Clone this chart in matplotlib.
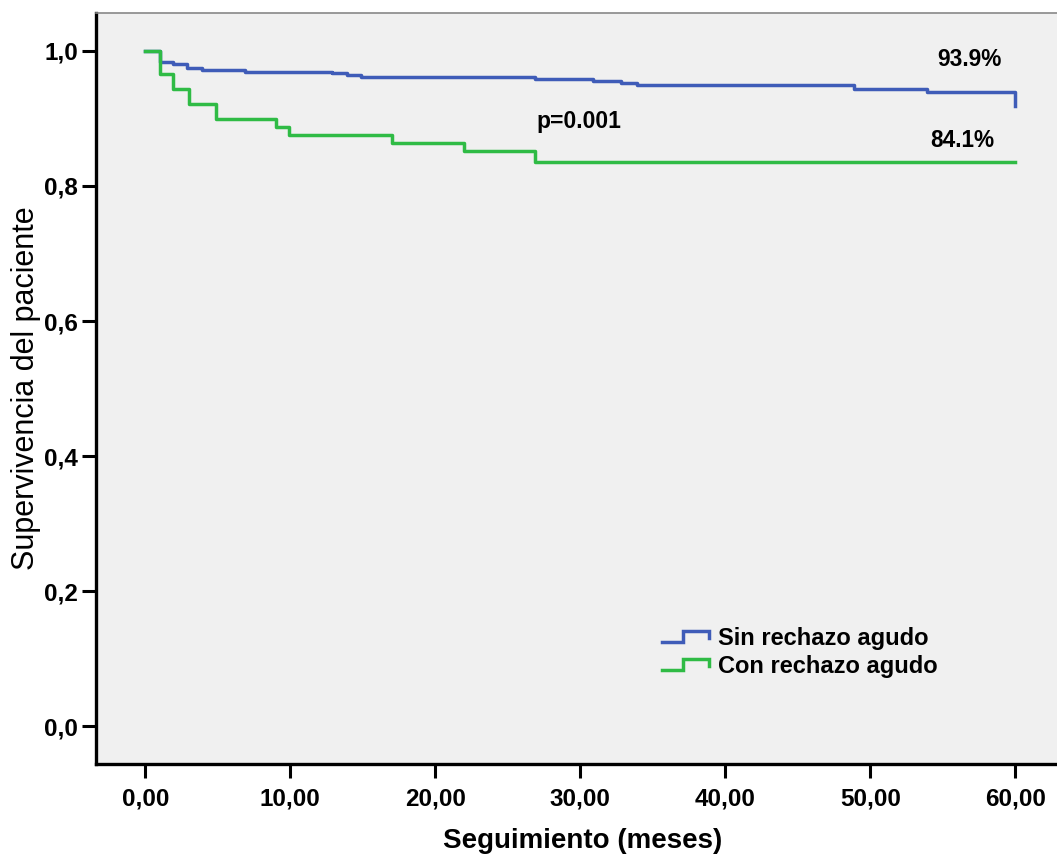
import matplotlib
matplotlib.use("Agg")
import matplotlib.pyplot as plt
from matplotlib.lines import Line2D
from matplotlib.legend_handler import HandlerBase
from matplotlib.ticker import FuncFormatter

plt.rcParams['font.family'] = ['Liberation Sans', 'DejaVu Sans']

# curvas de Kaplan-Meier (meses, supervivencia)
t_sin = [0, 1.0, 1.9, 2.9, 3.9, 6.9, 12.9, 13.9, 14.9, 26.9, 30.9, 32.8, 33.9, 48.9, 53.9, 59.95, 60]
s_sin = [1.0, 0.983, 0.980, 0.975, 0.972, 0.969, 0.967, 0.964, 0.961, 0.958, 0.955, 0.952, 0.949, 0.944, 0.939, 0.918, 0.918]
t_con = [0, 1.0, 1.9, 3.0, 4.9, 9.0, 9.9, 17.0, 22.0, 26.9, 60]
s_con = [1.0, 0.966, 0.943, 0.921, 0.899, 0.887, 0.876, 0.863, 0.851, 0.836, 0.836]

series_names = ['Sin rechazo agudo', 'Con rechazo agudo']
series_colors = ['#3f5cb8', '#2fbb45']
x_ticks = [0, 10, 20, 30, 40, 50, 60]
y_ticks = [0.0, 0.2, 0.4, 0.6, 0.8, 1.0]


class StepHandler(HandlerBase):
    # icono escalonado como en la leyenda de SPSS
    def create_artists(self, legend, orig_handle, xdescent, ydescent,
                       width, height, fontsize, trans):
        xs = [0, 0.45 * width, 0.45 * width, width, width]
        ys = [0.2 * height, 0.2 * height, 0.85 * height, 0.85 * height, 0.45 * height]
        ln = Line2D([x - xdescent for x in xs], [y - ydescent for y in ys],
                    color=orig_handle.get_color(), lw=orig_handle.get_linewidth(),
                    solid_joinstyle='miter', transform=trans)
        return [ln]


fig = plt.figure(figsize=(10.57, 8.59), dpi=100)
ax = fig.add_axes([0.0908, 0.111, 0.92, 0.874])
ax.set_facecolor('#f0f0f0')

h1, = ax.step(t_sin, s_sin, where='post', color=series_colors[0], lw=2.5,
              label=series_names[0])
h2, = ax.step(t_con, s_con, where='post', color=series_colors[1], lw=2.5,
              label=series_names[1])

ax.set_xlim(-3.4, 63.65)
ax.set_ylim(-0.055, 1.056)
ax.set_xticks(x_ticks)
ax.set_yticks(y_ticks)
ax.xaxis.set_major_formatter(FuncFormatter(lambda v, p: ('%.2f' % v).replace('.', ',')))
ax.yaxis.set_major_formatter(FuncFormatter(lambda v, p: ('%.1f' % v).replace('.', ',')))
ax.tick_params(axis='both', length=10, width=2.2, labelsize=17.5)
ax.tick_params(axis='x', pad=7)
ax.tick_params(axis='y', pad=3)
for lab in ax.get_xticklabels() + ax.get_yticklabels():
    lab.set_fontweight('bold')

for s in ['left', 'bottom']:
    ax.spines[s].set_linewidth(2.4)
    ax.spines[s].set_color('black')
ax.spines['top'].set_color('#888888')
ax.spines['top'].set_linewidth(1.2)
ax.spines['right'].set_visible(False)

ax.set_xlabel('Seguimiento (meses)', fontsize=20, fontweight='bold', labelpad=13)
ax.set_ylabel('Supervivencia del paciente', fontsize=22, labelpad=2)

ax.text(56.8, 0.987, '93.9%', fontsize=16.3, fontweight='bold', ha='center', va='center')
ax.text(56.3, 0.867, '84.1%', fontsize=16.3, fontweight='bold', ha='center', va='center')
ax.text(29.9, 0.895, 'p=0.001', fontsize=16.5, fontweight='bold', ha='center', va='center')

ax.legend(handles=[h1, h2], handler_map={Line2D: StepHandler()},
          loc='upper left', bbox_to_anchor=(0.56, 0.21), frameon=False,
          prop={'size': 17, 'weight': 'bold'}, handlelength=2.0,
          handletextpad=0.4, labelspacing=0.2)

fig.savefig('out.png', dpi=100)
